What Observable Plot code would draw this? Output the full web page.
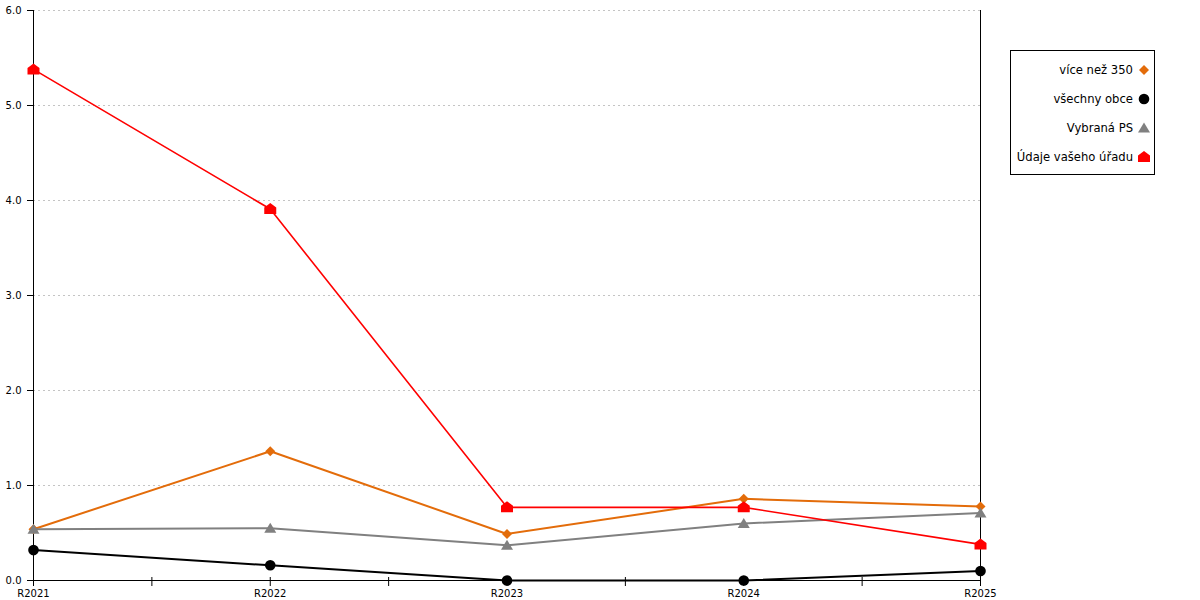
<!DOCTYPE html>
<html>
<head>
<meta charset="utf-8">
<script src="https://cdn.jsdelivr.net/npm/d3@7"></script>
<script src="https://cdn.jsdelivr.net/npm/@observablehq/plot@0.6"></script>
<style>
  html, body { margin: 0; padding: 0; background: #fff; }
  #wrap { position: relative; width: 1200px; height: 600px; font-family: "DejaVu Sans", sans-serif; }
  #legend { position: absolute; left: 1010px; top: 50px; }
</style>
</head>
<body>
<div id="wrap"><div id="chart"></div><div id="legend"></div></div>
<script>
const categories = ["R2021", "R2022", "R2023", "R2024", "R2025"];
const seriesNames = ["více než 350", "všechny obce", "Vybraná PS", "Údaje vašeho úřadu"];
const seriesColors = ["#E36C0A", "#000000", "#808080", "#FF0000"];
const vice350 = [0.54, 1.36, 0.49, 0.86, 0.78];
const vsechnyObce = [0.32, 0.16, 0.0, 0.0, 0.10];
const vybranaPS = [0.54, 0.55, 0.37, 0.60, 0.71];
const udajeUradu = [5.38, 3.91, 0.77, 0.77, 0.38];
const yTicks = [0, 1, 2, 3, 4, 5, 6];

const seriesValues = [vice350, vsechnyObce, vybranaPS, udajeUradu];

// custom symbols
const symDiamond = {draw(c, size) { const r = Math.sqrt(size / Math.PI); c.moveTo(0, -r); c.lineTo(r, 0); c.lineTo(0, r); c.lineTo(-r, 0); c.closePath(); }};
const symCircle = {draw(c, size) { const r = Math.sqrt(size / Math.PI); c.moveTo(r, 0); c.arc(0, 0, r, 0, 2 * Math.PI); c.closePath(); }};
const symTriangle = {draw(c, size) { const r = Math.sqrt(size / Math.PI); c.moveTo(0, -r * 1.1); c.lineTo(r * 1.2, r * 0.9); c.lineTo(-r * 1.2, r * 0.9); c.closePath(); }};
const symHouse = {draw(c, size) { const r = Math.sqrt(size / Math.PI); c.moveTo(0, -r * 1.2); c.lineTo(r * 1.2, -r * 0.3); c.lineTo(r * 1.2, r); c.lineTo(-r * 1.2, r); c.lineTo(-r * 1.2, -r * 0.3); c.closePath(); }};
const seriesSymbols = [symDiamond, symCircle, symTriangle, symHouse];
const seriesR = [5, 5.3, 5, 5];
const seriesWidths = [2, 2, 2, 1.6];

const rows = [];
seriesNames.forEach((name, s) => {
  categories.forEach((cat, i) => rows.push({series: name, s, i, cat, value: seriesValues[s][i]}));
});

const halfTicks = d3.range(0, categories.length - 0.99, 0.5);
const intTicks = d3.range(0, categories.length);

const marks = [
  Plot.gridY(yTicks.filter(d => d > 0), {stroke: "#c4c4c4", strokeOpacity: 1, strokeDasharray: "2,3"}),
  Plot.ruleX([0, categories.length - 1], {stroke: "#000", strokeWidth: 1}),
  Plot.ruleY([0], {stroke: "#000", strokeWidth: 1}),
  Plot.axisY(yTicks, {label: null, tickSize: 6, tickPadding: 6, tickFormat: d3.format(".1f"), fontSize: 10, fill: "#000", stroke: "#000"}),
  Plot.axisX(halfTicks, {label: null, tickSize: 9, dy: -3, tickFormat: () => "", stroke: "#000"}),
  Plot.axisX(intTicks, {label: null, tickSize: 0, tickPadding: 9, tickFormat: i => categories[i], fontSize: 10, fill: "#000"})
];
seriesNames.forEach((name, s) => {
  const data = rows.filter(d => d.s === s);
  marks.push(Plot.line(data, {x: "i", y: "value", stroke: seriesColors[s], strokeWidth: seriesWidths[s]}));
  marks.push(Plot.dot(data, {x: "i", y: "value", symbol: () => seriesSymbols[s], r: seriesR[s], fill: seriesColors[s], stroke: "none"}));
});

const chart = Plot.plot({
  width: 1200,
  height: 600,
  marginLeft: 33,
  marginRight: 220,
  marginTop: 10,
  marginBottom: 20,
  style: {fontFamily: "DejaVu Sans, sans-serif", fontSize: "10px", background: "#fff", color: "#000"},
  x: {type: "linear", domain: [0, categories.length - 1], axis: null, label: null},
  y: {domain: [0, 6], axis: null, label: null},
  symbol: {type: "identity"},
  marks
});
document.getElementById("chart").appendChild(chart);

// legend
const lw = 145, lh = 125;
const lsvg = d3.select("#legend").append("svg").attr("width", lw).attr("height", lh)
  .style("font-family", "DejaVu Sans, sans-serif").style("font-size", "11.6px");
lsvg.append("rect").attr("x", 0.5).attr("y", 0.5).attr("width", lw - 1).attr("height", lh - 1)
  .attr("fill", "#fff").attr("stroke", "#000");
seriesNames.forEach((name, s) => {
  const cy = 20 + s * 29;
  lsvg.append("text").attr("x", 123).attr("y", cy).attr("dy", "0.35em").attr("text-anchor", "end").attr("fill", "#000").text(name);
  const r = seriesR[s];
  const p = d3.path();
  seriesSymbols[s].draw(p, r * r * Math.PI);
  lsvg.append("path").attr("transform", `translate(134,${cy})`).attr("d", p.toString()).attr("fill", seriesColors[s]);
});
</script>
</body>
</html>
